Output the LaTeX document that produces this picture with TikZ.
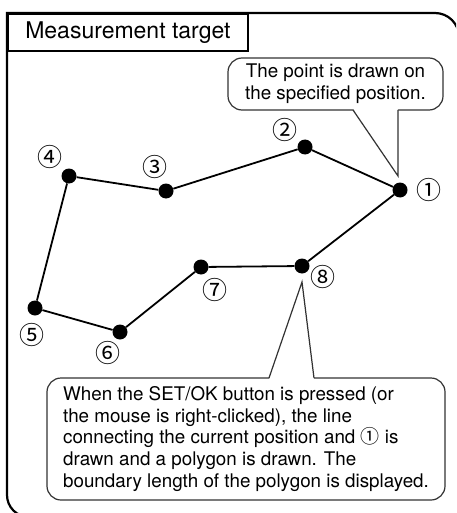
\documentclass[tikz,border=0pt]{standalone}
\usepackage{fontspec}
\setmainfont{TeX Gyre Heros}
\newfontfamily\circfont{Noto Sans CJK JP}
\usetikzlibrary{calc}

\tikzset{
  frame/.style={line width=2.2pt, draw=black},
  bubble/.style={draw=black!80, line width=1.2pt, fill=white, rounded corners=14pt},
  tail/.style={draw=black!80, line width=1.2pt, line join=miter},
  dot/.style={circle, fill=black, minimum size=15pt, inner sep=0pt},
  num/.style={font=\circfont\fontsize{25}{25}\selectfont, inner sep=0pt},
  edge/.style={line width=1.8pt},
  body/.style={font=\fontsize{18.8}{21.7}\selectfont, text=black},
}

\begin{document}
\begin{tikzpicture}[x=1pt,y=-1pt]

\useasboundingbox (0,0) rectangle (456,513);
\clip (0,0) rectangle (456,513);

%%% 枠
\draw[frame] (459,560) [rounded corners=24pt] -- (459,13) [sharp corners] -- (7,13)
  [rounded corners=22pt] -- (7,517) -- (560,517);
\node[draw, line width=1.8pt, minimum width=240pt, minimum height=37pt, anchor=north west,
  font=\fontsize{23}{23}\selectfont] (title) at (7,13) {Measurement target};

%% 点
\node[dot] (p1) at (400,190) {};
\node[dot] (p2) at (305,147) {};
\node[dot] (p3) at (166,191) {};
\node[dot] (p4) at (69,176) {};
\node[dot] (p5) at (35,308) {};
\node[dot] (p6) at (120,332) {};
\node[dot] (p7) at (201,267) {};
\node[dot] (p8) at (302,266) {};

%% 線
\draw[edge] (p1) -- (p2) -- (p3) -- (p4) -- (p5) -- (p6) -- (p7) -- (p8) -- (p1);

%% 番号
\node[num] (l1) at (429,190) {①};
\node[num] (l2) at (285,130) {②};
\node[num] (l3) at (155,167) {③};
\node[num] (l4) at (50,157) {④};
\node[num] (l5) at (32,335) {⑤};
\node[num] (l6) at (108,353) {⑥};
\node[num] (l7) at (215,290) {⑦};
\node[num] (l8) at (323,277) {⑧};

%% 吹き出し (上)
\node[bubble, body, minimum width=215pt, minimum height=52pt, align=center] (msg1) at (335.5,84)
  {The point is drawn on\\the specified position.};
\coordinate (t1a) at (353,110);
\coordinate (t1b) at (398,110);
\coordinate (tip1) at (398,176);
\fill[white] ($(t1a)+(0,-1.5)$) -- (tip1) -- ($(t1b)+(0,-1.5)$) -- cycle;
\draw[tail] (t1a) -- (tip1) -- (t1b);

%% 吹き出し (下)
\node[bubble, body, minimum width=398pt, minimum height=122pt, align=left] (msg2) at (246,439)
  {When the SET/OK button is pressed (or\\
   the mouse is right-clicked), the line\\
   connecting the current position and {\circfont\fontsize{19}{21.7}\selectfont ①} is\\
   drawn and a polygon is drawn. The\\
   boundary length of the polygon is displayed.};
\coordinate (t2a) at (269,378);
\coordinate (t2b) at (314,378);
\coordinate (tip2) at (302,282);
\fill[white] ($(t2a)+(0,1.5)$) -- (tip2) -- ($(t2b)+(0,1.5)$) -- cycle;
\draw[tail] (t2a) -- (tip2) -- (t2b);

\end{tikzpicture}
\end{document}
